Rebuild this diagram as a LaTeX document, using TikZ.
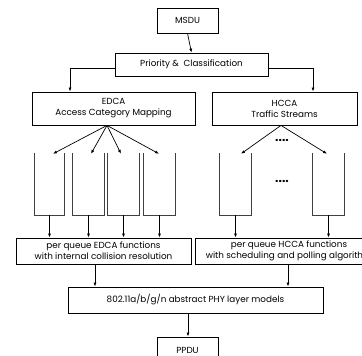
\documentclass[tikz,border=0pt]{standalone}
\usepackage{fontspec}
\setmainfont{Poppins}
\usetikzlibrary{arrows.meta,calc}

\begin{document}
\begin{tikzpicture}[x=1pt,y=-1pt,
    box/.style={draw,line width=0.8pt,align=center,inner sep=0pt,font=\fontsize{8.8}{11}\selectfont},
    queue/.style={draw=none,inner sep=0pt,minimum height=62pt},
    arr/.style={-{Latex[length=4pt,width=3pt]},line width=0.7pt}]
    \useasboundingbox (0,0) rectangle (362,356);
    % top
    \node[box,minimum width=61pt,minimum height=25pt](msdu) at (187.5,20.5){MSDU};
    \node[box,minimum width=153pt,minimum height=23pt](prio) at (191.5,64.5){Priority \&\ \ Classification};
    \node[box,minimum width=163pt,minimum height=33pt](edca) at (113.5,108.5){EDCA\\Access Category Mapping};
    \node[box,minimum width=145pt,minimum height=33pt](hcca) at (284.5,108.5){HCCA\\Traffic Streams};
    \draw[arr](msdu.south)--(prio.north);
    \draw[arr]([yshift=-3.5]prio.west)-|([xshift=-43.5]edca.north);
    \draw[arr]([yshift=-3.5]prio.east)-|([xshift=28.5]hcca.north);
    % queues
    \node[queue,minimum width=29pt](q1) at (49.5,184){};
    \node[queue,minimum width=31pt](q2) at (88.5,184){};
    \node[queue,minimum width=31pt](q3) at (123.5,184){};
    \node[queue,minimum width=31pt](q4) at (159.5,184){};
    \node[queue,minimum width=31pt](h1) at (235.5,184){};
    \node[queue,minimum width=31pt](h2) at (328.5,184){};
    \foreach \q in {q1,q2,q3,q4,h1,h2}
      \draw[line width=0.7pt,black!75](\q.north west)--(\q.south west)--(\q.south east)--(\q.north east);
    \node[font=\bfseries\fontsize{12}{12}\selectfont](dots1) at (282,140){....};
    \node[font=\bfseries\fontsize{12}{12}\selectfont](dots2) at (282,181){....};
    \coordinate (fanE) at ([xshift=-6.5]edca.south);
    \coordinate (fanH) at ([xshift=-3.5]hcca.south);
    \foreach \q/\dx in {q1/3.5,q2/2.5,q3/-2.5,q4/-0.5}
      \draw[arr](fanE)--([xshift=\dx,yshift=-1]\q.north);
    \draw[arr](fanH)--([xshift=5.5,yshift=-1]h1.north);
    \draw[arr](fanH)--([xshift=-1.5,yshift=-1]h2.north);
    % bottom
    \node[box,minimum width=175pt,minimum height=26pt](pqe) at (103.5,251){per queue EDCA functions\\with internal collision resolution};
    \node[box,minimum width=188pt,minimum height=26pt](pqh) at (289,251){per queue HCCA functions\\with scheduling and polling algorithm};
    \node[box,minimum width=255pt,minimum height=26pt](phy) at (195.5,300){802.11a/b/g/n abstract PHY layer models};
    \node[box,minimum width=61pt,minimum height=26pt](ppdu) at (187.5,350){PPDU};
    \foreach \q in {q1,q2,q3,q4}
      \draw[arr](\q.south)--(\q.south|-pqe.north);
    \foreach \q in {h1,h2}
      \draw[arr](\q.south)--(\q.south|-pqh.north);
    \draw[arr]([xshift=-8.5]pqe.south)--([xshift=-8.5]pqe.south|-phy.north);
    \draw[arr]([xshift=-1]pqh.south)--([xshift=-1]pqh.south|-phy.north);
    \draw[arr]([xshift=-7.5]phy.south)--([xshift=-7.5]phy.south|-ppdu.north);
\end{tikzpicture}
\end{document}
